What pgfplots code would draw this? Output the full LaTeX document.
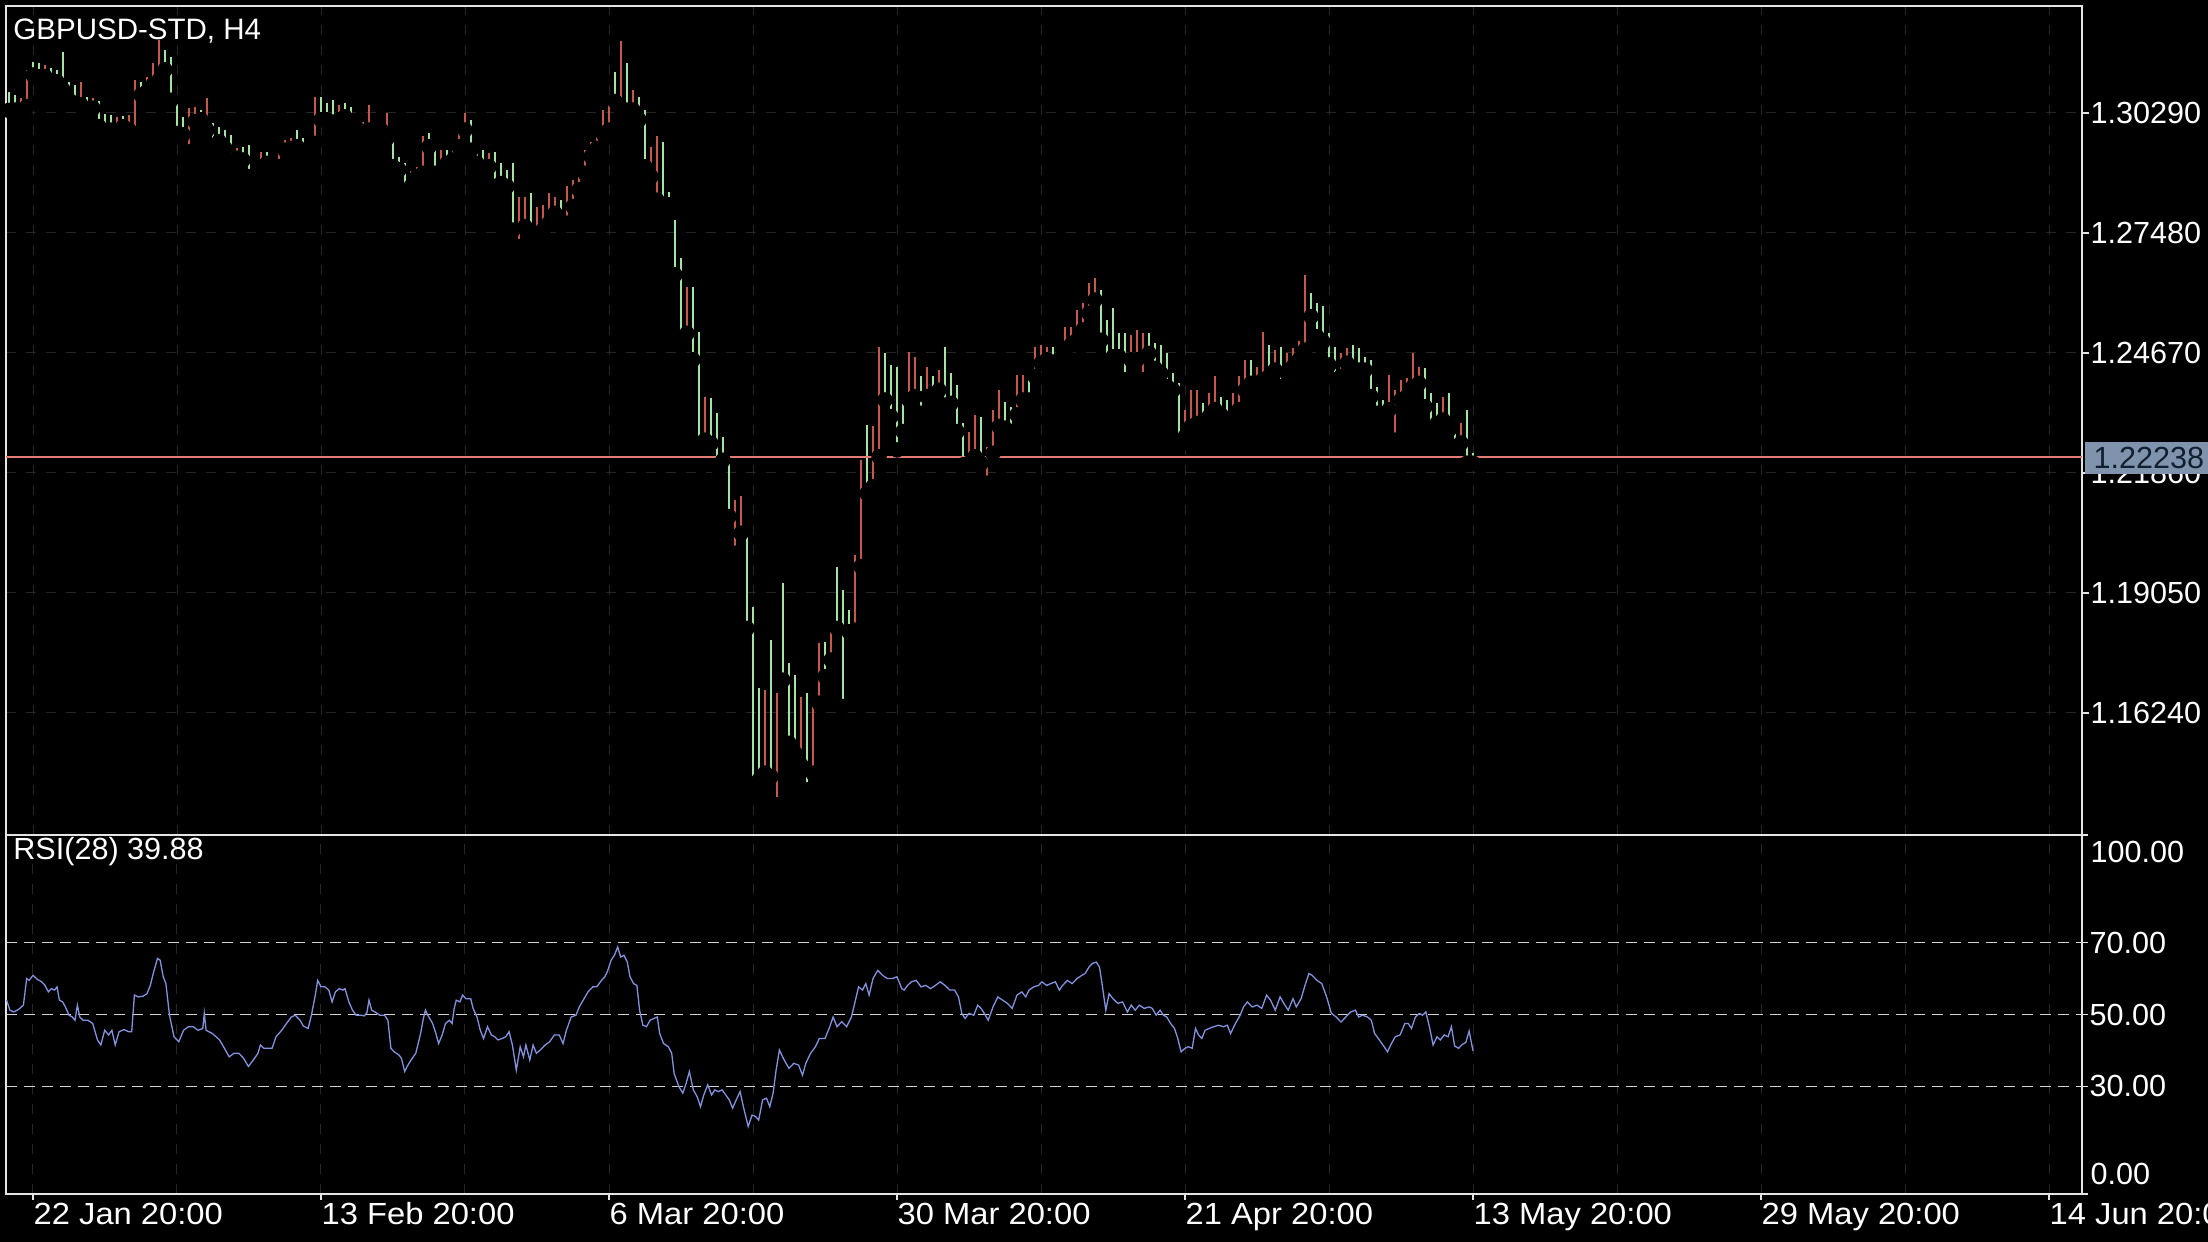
\documentclass[border=0pt]{standalone}
\usepackage{pgfplots}
\pgfplotsset{compat=1.18}
\usepackage{pgfplotstable}
\usepackage{fontspec}
\setmainfont{Liberation Sans}
\newfontfamily\widefont[FakeStretch=1.07]{Liberation Sans}

\definecolor{framec}{HTML}{E4E4E4}
\definecolor{gridc}{HTML}{262626}
\definecolor{levelc}{HTML}{D2D2D2}
\definecolor{upc}{HTML}{C8584C}
\definecolor{downc}{HTML}{A2E4A2}
\definecolor{pricec}{HTML}{E27C72}
\definecolor{rsic}{HTML}{8392E0}
\definecolor{tagc}{HTML}{8093AD}
\definecolor{tagtext}{HTML}{102030}

% H4 bars, every second bar: index (bars from 22 Jan 20:00), high, low, up=1 / down=0
\pgfplotstableread{
i h l u
-8 1.3079 1.3035 0
-6 1.3071 1.3036 0
-4 1.3063 1.3035 1
-2 1.3130 1.3044 1
0 1.3149 1.3118 0
2 1.3145 1.3114 0
4 1.3141 1.3114 1
6 1.3134 1.3095 0
8 1.3130 1.3102 0
10 1.3171 1.3083 0
12 1.3102 1.3059 0
14 1.3095 1.3052 0
16 1.3102 1.3048 1
18 1.3067 1.3036 0
20 1.3063 1.3040 1
22 1.3056 1.2997 0
24 1.3026 1.2974 0
26 1.3024 1.2989 0
28 1.3020 1.2985 1
30 1.3022 1.2997 0
32 1.3024 1.2989 1
34 1.3106 1.2978 1
36 1.3102 1.3071 0
38 1.3114 1.3079 1
40 1.3145 1.3095 1
42 1.3200 1.3106 1
44 1.3177 1.3130 0
46 1.3161 1.3059 0
48 1.3059 1.2981 0
50 1.3020 1.2978 0
52 1.3040 1.2938 1
54 1.3044 1.3009 1
56 1.3036 1.3013 0
58 1.3063 1.2989 1
60 1.3005 1.2950 0
62 1.2997 1.2962 0
64 1.2989 1.2946 0
66 1.2978 1.2919 0
68 1.2946 1.2923 1
70 1.2950 1.2919 0
72 1.2954 1.2880 0
74 1.2903 1.2872 1
76 1.2938 1.2903 1
78 1.2938 1.2911 0
80 1.2919 1.2888 1
82 1.2938 1.2903 1
84 1.2966 1.2942 1
86 1.2970 1.2946 1
88 1.2989 1.2950 0
90 1.2970 1.2942 0
92 1.2958 1.2938 0
94 1.3067 1.2958 1
96 1.3066 1.3013 0
98 1.3052 1.3013 0
100 1.3059 1.2997 0
102 1.3048 1.3013 1
104 1.3052 1.3020 0
106 1.3044 1.3005 0
108 1.3013 1.2993 0
110 1.3009 1.2970 1
112 1.3048 1.2989 1
114 1.3005 1.2989 0
116 1.3001 1.2989 0
118 1.3028 1.2970 1
120 1.2974 1.2903 0
122 1.2927 1.2896 0
124 1.2911 1.2845 0
126 1.2892 1.2857 1
128 1.2903 1.2880 1
130 1.2974 1.2888 1
132 1.2981 1.2950 0
134 1.2950 1.2888 0
136 1.2942 1.2888 1
138 1.2942 1.2911 0
140 1.2950 1.2919 1
142 1.2989 1.2950 1
144 1.3028 1.2989 1
146 1.3013 1.2942 0
148 1.2950 1.2911 0
150 1.2942 1.2896 0
152 1.2935 1.2903 1
154 1.2938 1.2857 0
156 1.2911 1.2864 0
158 1.2896 1.2857 0
160 1.2911 1.2755 0
162 1.2833 1.2716 1
164 1.2833 1.2763 1
166 1.2841 1.2736 0
168 1.2810 1.2747 1
170 1.2814 1.2755 1
172 1.2841 1.2771 1
174 1.2833 1.2794 1
176 1.2825 1.2771 0
178 1.2857 1.2771 1
180 1.2872 1.2810 1
182 1.2880 1.2849 1
184 1.2942 1.2888 1
186 1.2962 1.2927 1
188 1.2989 1.2946 1
190 1.3036 1.2981 1
192 1.3056 1.2989 1
194 1.3126 1.3056 0
196 1.3198 1.3036 1
198 1.3145 1.3036 0
200 1.3083 1.3036 1
202 1.3067 1.3013 0
204 1.3036 1.2903 0
206 1.2950 1.2880 1
208 1.2974 1.2825 1
210 1.2962 1.2802 0
212 1.2845 1.2814 0
214 1.2778 1.2650 0
216 1.2689 1.2486 0
218 1.2622 1.2513 1
220 1.2622 1.2451 0
222 1.2517 1.2255 0
224 1.2365 1.2263 1
226 1.2361 1.2255 0
228 1.2326 1.2201 0
230 1.2271 1.2216 0
232 1.2216 1.2084 0
234 1.2123 1.1998 1
236 1.2131 1.2045 1
238 1.2045 1.1822 0
240 1.1873 1.1448 0
242 1.1682 1.1467 0
244 1.1678 1.1483 1
246 1.1795 1.1475 0
248 1.1670 1.1409 1
250 1.1928 1.1701 0
252 1.1740 1.1553 0
254 1.1713 1.1530 0
256 1.1662 1.1502 1
258 1.1670 1.1444 0
260 1.1654 1.1483 1
262 1.1787 1.1647 1
264 1.1791 1.1709 0
266 1.1818 1.1748 1
268 1.1967 1.1822 0
270 1.1912 1.1639 0
272 1.1865 1.1814 0
274 1.1994 1.1818 1
276 1.2216 1.1967 1
278 1.2298 1.2138 0
280 1.2295 1.2154 1
282 1.2482 1.2224 1
284 1.2466 1.2357 0
286 1.2439 1.2318 0
288 1.2435 1.2240 0
290 1.2365 1.2283 0
292 1.2470 1.2357 1
294 1.2458 1.2365 1
296 1.2412 1.2326 0
298 1.2435 1.2365 1
300 1.2412 1.2361 0
302 1.2427 1.2380 1
304 1.2482 1.2345 0
306 1.2419 1.2349 0
308 1.2392 1.2283 0
310 1.2302 1.2205 0
312 1.2283 1.2209 1
314 1.2322 1.2224 1
316 1.2318 1.2209 0
318 1.2248 1.2162 1
320 1.2334 1.2232 1
322 1.2380 1.2295 1
324 1.2353 1.2291 0
326 1.2341 1.2283 0
328 1.2416 1.2322 1
330 1.2416 1.2357 1
332 1.2416 1.2357 0
334 1.2482 1.2412 1
336 1.2486 1.2443 1
338 1.2482 1.2451 1
340 1.2482 1.2427 0
342 1.2482 1.2451 1
344 1.2529 1.2474 1
346 1.2529 1.2486 1
348 1.2568 1.2497 1
350 1.2583 1.2521 1
352 1.2630 1.2560 1
354 1.2642 1.2591 1
356 1.2615 1.2497 0
358 1.2544 1.2435 0
360 1.2572 1.2458 0
362 1.2513 1.2458 0
364 1.2513 1.2404 0
366 1.2509 1.2451 1
368 1.2521 1.2451 1
370 1.2513 1.2404 1
372 1.2513 1.2466 0
374 1.2490 1.2431 0
376 1.2486 1.2419 0
378 1.2466 1.2388 0
380 1.2419 1.2380 0
382 1.2396 1.2248 0
384 1.2334 1.2271 1
386 1.2380 1.2295 1
388 1.2380 1.2302 1
390 1.2349 1.2302 0
392 1.2373 1.2318 1
394 1.2412 1.2334 1
396 1.2365 1.2322 0
398 1.2357 1.2287 0
400 1.2373 1.2310 1
402 1.2412 1.2334 1
404 1.2451 1.2380 1
406 1.2451 1.2396 0
408 1.2435 1.2396 1
410 1.2517 1.2404 1
412 1.2486 1.2412 0
414 1.2474 1.2427 1
416 1.2482 1.2388 0
418 1.2466 1.2419 1
420 1.2478 1.2435 1
422 1.2494 1.2451 1
424 1.2650 1.2474 1
426 1.2607 1.2552 0
428 1.2583 1.2505 0
430 1.2576 1.2493 0
432 1.2513 1.2439 0
434 1.2482 1.2404 0
436 1.2466 1.2412 1
438 1.2478 1.2443 1
440 1.2486 1.2427 0
442 1.2478 1.2427 0
444 1.2458 1.2427 0
446 1.2451 1.2365 0
448 1.2388 1.2326 0
450 1.2357 1.2302 0
452 1.2416 1.2334 1
454 1.2380 1.2263 1
456 1.2404 1.2357 1
458 1.2408 1.2365 1
460 1.2466 1.2388 1
462 1.2435 1.2396 1
464 1.2431 1.2341 0
466 1.2373 1.2283 0
468 1.2349 1.2302 0
470 1.2365 1.2310 1
472 1.2373 1.2287 0
474 1.2295 1.2248 0
476 1.2302 1.2256 1
478 1.2334 1.2209 0
480 1.2232 1.2209 0
}\bars

% RSI(28)
\pgfplotstableread{
i r
-8.8 54.0
-7.7 51.2
-6.4 50.7
-4.8 51.4
-3.2 52.6
-2.1 60.0
-1.3 59.5
0 60.9
1.6 59.7
2.9 59.1
4.0 58.1
5.1 56.3
6.1 57.2
7.2 56.8
8.0 57.7
8.8 54.0
9.9 53.5
10.8 52.1
12.0 49.8
13.1 49.3
14.0 48.4
14.8 52.6
15.6 49.3
16.7 48.4
18.3 48.4
19.9 47.5
21.5 42.9
22.6 41.5
23.9 45.6
25.2 44.3
26.3 45.6
27.4 41.5
28.7 45.2
30.3 45.8
31.9 45.2
32.9 45.2
33.8 55.4
35.1 54.9
36.7 55.1
38.0 55.8
39.1 58.1
40.2 61.8
41.5 65.6
42.4 65.1
43.4 60.5
44.3 58.6
45.5 49.8
47.0 43.8
48.6 42.4
50.2 45.6
51.8 46.6
53.4 46.6
55.0 45.6
56.6 46.1
57.1 50.3
57.7 45.6
59.8 44.7
62.2 42.9
63.8 40.6
65.4 38.2
67.0 39.2
68.6 39.2
70.2 37.8
71.8 35.5
73.4 37.3
75.0 39.2
75.8 41.5
76.9 40.6
78.5 40.6
79.7 40.6
81.0 43.8
82.9 45.6
84.5 47.5
86.1 49.3
87.4 49.8
89.0 48.4
90.1 46.8
91.7 46.1
92.8 49.8
94.1 55.4
94.9 59.5
96.0 57.7
97.3 57.7
98.6 56.8
99.7 53.5
100.8 56.3
102.1 57.2
103.3 56.8
104.0 57.2
105.3 53.5
106.5 51.2
107.7 49.8
109.3 49.8
110.4 49.6
111.3 50.5
112.0 54.0
112.9 51.2
114.0 50.7
115.6 49.8
117.2 49.8
118.3 48.4
119.3 40.6
120.4 39.6
122.0 38.7
122.8 37.8
123.9 34.1
124.7 35.5
126.0 37.3
127.6 39.2
129.2 44.7
130.0 48.4
130.8 51.2
131.6 49.8
133.2 47.5
134.3 44.7
135.2 41.9
136.4 44.3
137.5 47.5
138.8 48.4
139.7 47.5
140.4 51.7
141.1 54.0
142.3 53.5
143.2 55.4
144.3 54.4
145.9 54.4
146.7 51.7
148.0 49.3
149.1 45.6
150.2 43.3
151.5 46.6
152.8 44.3
153.9 43.8
155.0 42.9
156.3 43.3
157.6 43.8
158.7 45.2
159.8 41.5
161.1 34.5
162.4 41.0
163.5 38.2
164.3 41.5
165.6 37.3
166.7 41.5
167.8 39.2
169.1 40.1
170.7 41.5
172.2 42.4
173.8 44.3
175.4 44.3
176.7 41.9
177.8 45.6
179.4 49.3
181.0 49.8
182.1 52.1
183.4 54.0
185.0 56.3
186.6 57.7
187.9 57.7
189.5 59.5
190.6 60.5
191.4 61.8
192.7 65.1
193.8 66.5
194.9 68.8
195.9 66.0
197.0 66.5
198.1 64.6
199.0 60.5
200.2 58.6
201.3 58.1
202.2 51.2
203.3 47.0
204.5 46.6
205.7 48.4
207.0 48.9
208.1 49.3
208.9 44.7
210.2 41.9
211.8 41.0
212.9 39.2
213.7 33.6
215.3 29.9
216.6 28.1
217.7 30.8
218.8 34.1
220.1 29.0
221.4 27.1
222.5 24.3
223.6 27.6
224.9 30.4
226.2 27.6
227.3 29.0
228.4 28.5
229.7 29.0
230.9 27.6
232.1 26.2
233.2 23.9
234.4 26.2
235.7 28.5
236.8 24.3
238.4 18.8
239.7 22.0
240.8 21.6
241.9 20.6
243.2 26.2
244.5 26.7
245.6 24.3
246.7 28.1
247.7 34.5
248.8 40.1
250.4 37.3
252.0 35.0
253.6 36.4
255.2 35.9
256.5 33.1
257.6 36.4
259.2 39.2
260.8 41.0
262.1 43.3
264.0 43.3
265.6 46.6
266.7 49.3
268.0 46.6
269.6 48.0
271.2 46.6
272.8 49.3
273.9 53.1
275.2 57.7
276.5 56.8
277.6 58.6
278.7 55.4
280.0 60.0
281.6 62.3
283.2 60.9
284.8 60.0
286.4 60.0
288.0 60.5
289.6 57.2
290.4 56.8
291.5 58.1
292.8 59.1
294.4 59.5
296.0 57.7
297.6 58.1
299.2 57.2
300.8 58.1
302.4 59.1
304.0 58.1
305.6 56.8
307.2 56.8
308.5 54.9
309.6 50.3
310.7 48.9
312.0 50.3
313.6 49.8
314.9 52.6
316.0 51.7
317.1 50.3
318.4 48.4
320.0 52.1
321.6 54.9
323.2 54.0
324.8 53.1
326.4 51.7
328.0 55.4
329.6 56.3
330.9 54.9
332.0 56.8
333.6 57.7
335.2 58.1
336.3 59.1
337.9 58.1
339.2 58.6
340.8 59.1
342.1 56.8
343.2 58.1
344.8 59.5
346.4 58.6
348.0 60.0
349.6 60.9
350.7 61.4
352.0 63.2
353.1 64.2
354.4 64.6
355.5 63.2
356.5 57.7
357.6 51.2
358.7 55.8
360.0 54.4
361.6 53.1
363.2 53.5
364.8 50.7
366.1 52.6
367.4 51.2
368.8 52.6
370.4 51.7
372.0 52.1
373.1 51.7
374.4 49.8
375.7 51.2
376.8 49.8
377.9 49.3
379.2 47.5
380.5 46.1
381.6 43.3
382.7 39.6
384.0 40.6
385.1 41.0
386.4 40.6
387.5 46.1
388.5 44.3
389.6 43.3
390.7 45.6
392.0 46.1
393.6 46.6
395.2 47.0
396.8 46.6
398.1 47.0
399.2 44.7
400.8 47.5
402.4 49.8
403.5 52.1
404.8 53.5
406.4 52.1
408.0 52.6
409.6 51.7
411.2 55.4
412.5 54.0
414.1 51.2
415.7 54.9
417.3 52.6
418.4 51.2
420.0 54.4
421.1 52.1
422.7 54.4
424.0 58.1
425.3 61.4
426.4 60.9
428.0 59.5
429.6 58.6
431.2 54.9
432.8 50.3
434.4 49.3
436.0 47.9
437.6 49.3
439.2 50.7
440.8 51.2
441.9 49.3
443.2 49.8
444.8 49.3
446.1 48.4
447.2 44.7
448.8 42.9
450.4 41.0
451.5 39.6
452.8 41.9
454.1 43.8
455.7 44.3
457.3 47.5
458.4 47.5
459.5 46.1
460.8 49.3
462.1 50.3
463.2 49.8
464.3 50.7
465.6 46.1
466.7 41.5
468.0 43.8
469.1 42.9
470.4 44.3
471.7 43.8
472.8 46.6
473.9 41.2
475.2 40.6
476.5 41.7
477.6 42.2
478.7 45.4
480.0 39.88
}\rsi

\begin{document}
\begin{tikzpicture}
\fill[black] (0,0) rectangle (220.8mm,124.2mm);

% price panel
\begin{axis}[
  at={(0.6mm,40.7mm)}, anchor=south west,
  width=207.6mm, height=82.9mm, scale only axis,
  xmin=-9, xmax=683, ymin=1.13383, ymax=1.32796,
  axis line style={framec, line width=0.2mm},
  xtick={0,48,...,672}, xticklabels={},
  xtick style={draw=none},
  xmajorgrids, ymajorgrids,
  major grid style={gridc, line width=0.1mm, dash pattern=on 1mm off 1mm},
  ytick={1.16240,1.19050,1.21860,1.24670,1.27480,1.30290},
  ytick pos=right, tick align=outside,
  major tick length=0.7mm,
  ytick style={framec, line width=0.15mm},
  /pgf/number format/assume math mode=true,
  yticklabel={\pgfmathprintnumber[fixed,fixed zerofill,precision=5]{\tick}},
  yticklabel style={anchor=west, inner sep=0pt, xshift=0.1mm, text=white,
    font=\fontsize{8.7}{10}\selectfont},
]
\addplot[only marks, mark=none, restrict expr to domain={\thisrow{u}}{1:1},
  error bars/.cd, y dir=plus, y explicit, error mark=none,
  error bar style={upc, line width=0.18mm}]
  table[x=i, y=l, y error expr=\thisrow{h}-\thisrow{l}] {\bars};
\addplot[only marks, mark=none, restrict expr to domain={\thisrow{u}}{0:0},
  error bars/.cd, y dir=plus, y explicit, error mark=none,
  error bar style={downc, line width=0.18mm}]
  table[x=i, y=l, y error expr=\thisrow{h}-\thisrow{l}] {\bars};
\addplot[pricec, line width=0.2mm] coordinates {(-9,1.22238) (683,1.22238)};
\end{axis}

% RSI panel
\begin{axis}[
  at={(0.6mm,4.8mm)}, anchor=south west,
  width=207.6mm, height=35.9mm, scale only axis,
  xmin=-9, xmax=683, ymin=0, ymax=100,
  axis line style={framec, line width=0.2mm},
  xtick={0,96,...,672},
  xticklabels={22 Jan 20:00,13 Feb 20:00,6 Mar 20:00,30 Mar 20:00,21 Apr 20:00,13 May 20:00,29 May 20:00,14 Jun 20:00},
  minor xtick={48,144,...,624},
  xmajorgrids, xminorgrids,
  major grid style={gridc, line width=0.1mm, dash pattern=on 1mm off 1mm},
  minor grid style={gridc, line width=0.1mm, dash pattern=on 1mm off 1mm},
  xtick pos=bottom, ytick pos=right, tick align=outside,
  major tick length=0.6mm, minor tick length=0mm,
  tick style={framec, line width=0.15mm},
  xticklabel style={anchor=north west, inner sep=0pt, yshift=-0.2mm, text=white,
    font=\widefont\fontsize{8.7}{10}\selectfont},
  ytick={0,30,50,70,100},
  yticklabels={{},30.00,50.00,70.00,{}},
  yticklabel style={anchor=west, inner sep=0pt, xshift=0.1mm, text=white,
    font=\fontsize{8.7}{10}\selectfont},
]
\addplot[levelc, line width=0.14mm, dash pattern=on 1.1mm off 0.7mm] coordinates {(-9,70) (683,70)};
\addplot[levelc, line width=0.14mm, dash pattern=on 1.1mm off 0.7mm] coordinates {(-9,50) (683,50)};
\addplot[levelc, line width=0.14mm, dash pattern=on 1.1mm off 0.7mm] coordinates {(-9,30) (683,30)};
\addplot[rsic, line width=0.13mm] table[x=i, y=r] {\rsi};
\end{axis}

% titles, edge labels of the RSI scale and current-price tag
\node[anchor=base west, inner sep=0pt, text=white, font=\fontsize{8.4}{10}\selectfont]
  at (1.27mm,120.2mm) {GBPUSD-STD, H4};
\node[anchor=base west, inner sep=0pt, text=white, font=\fontsize{8.7}{10}\selectfont]
  at (1.27mm,38.2mm) {RSI(28) 39.88};
\node[anchor=north west, inner sep=0pt, text=white, font=\fontsize{8.7}{10}\selectfont]
  at (209.0mm,40.2mm) {100.00};
\node[anchor=south west, inner sep=0pt, text=white, font=\fontsize{8.7}{10}\selectfont]
  at (209.0mm,5.6mm) {0.00};
\fill[tagc] (208.5mm,76.8mm) rectangle (220.8mm,80.0mm);
\node[anchor=west, inner sep=0pt, text=tagtext, font=\fontsize{8.7}{10}\selectfont]
  at (209.3mm,78.4mm) {1.22238};

\pgfresetboundingbox
\useasboundingbox (0,0) rectangle (220.8mm,124.2mm);
\end{tikzpicture}
\end{document}
